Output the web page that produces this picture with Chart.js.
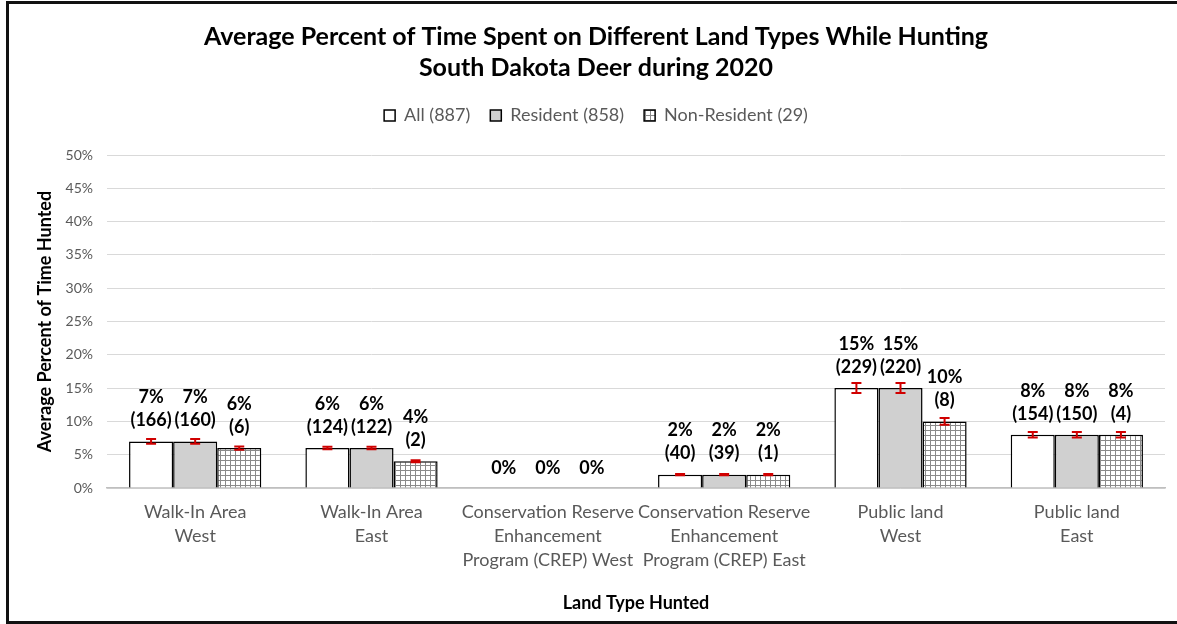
<!DOCTYPE html>
<html>
<head>
<meta charset="utf-8">
<script src="https://cdn.jsdelivr.net/npm/chart.js@4.4.1/dist/chart.umd.min.js"></script>
<style>
  html, body { margin: 0; padding: 0; background: #fff; overflow: hidden; }
  #wrap { position: relative; width: 1177px; height: 624px; }
  #frame { position: absolute; left: 6px; top: 1px; width: 1200px; height: 623px; box-sizing: border-box; border: 3px solid #111; pointer-events: none; }
</style>
</head>
<body>
<div id="wrap">
  <canvas id="chart" width="1177" height="624"></canvas>
  <div id="frame"></div>
</div>
<script>
// land types hunted (x categories)
const categories = [
    ['Walk-In Area', 'West'],
    ['Walk-In Area', 'East'],
    ['Conservation Reserve', 'Enhancement', 'Program (CREP) West'],
    ['Conservation Reserve', 'Enhancement', 'Program (CREP) East'],
    ['Public land', 'West'],
    ['Public land', 'East']
];
const seriesNames = ['All (887)', 'Resident (858)', 'Non-Resident (29)'];

// average percent of time hunted
const allPct = [7, 6, 0, 2, 15, 8];
const residentPct = [7, 6, 0, 2, 15, 8];
const nonResidentPct = [6, 4, 0, 2, 10, 8];

// number of hunters (shown under the percent)
const allCount = [166, 124, null, 40, 229, 154];
const residentCount = [160, 122, null, 39, 220, 150];
const nonResidentCount = [6, 2, null, 1, 8, 4];

// error bar half widths (percent points)
const allErr = [0.35, 0.2, 0, 0.1, 0.75, 0.4];
const residentErr = [0.35, 0.2, 0, 0.1, 0.75, 0.4];
const nonResidentErr = [0.25, 0.15, 0, 0.1, 0.5, 0.4];

const yMin = 0, yMax = 50, yStep = 5;

const FONT = 'Lato, "Open Sans", sans-serif';
Chart.defaults.font.family = FONT;

// grid hatch for the non-resident bars
const makeGrid = () => {
    const c = document.createElement('canvas');
    c.width = 5; c.height = 5;
    const g = c.getContext('2d');
    g.fillStyle = '#ffffff';
    g.fillRect(0, 0, 5, 5);
    g.fillStyle = '#8a8a8a';
    g.fillRect(0, 0, 5, 1);
    g.fillRect(0, 0, 1, 5);
    return g.createPattern(c, 'repeat');
};

const errorAndLabels = {
    id: 'errorAndLabels',
    afterDatasetsDraw(chart) {
        const ctx = chart.ctx;
        const y = chart.scales.y;
        ctx.save();
        chart.data.datasets.forEach((ds, i) => {
            const meta = chart.getDatasetMeta(i);
            meta.data.forEach((bar, j) => {
                const v = ds.data[j];
                const e = ds.errors[j];
                if (e) {
                    const t = y.getPixelForValue(v + e);
                    const b = y.getPixelForValue(v - e);
                    ctx.strokeStyle = '#d00000';
                    ctx.lineWidth = 2;
                    ctx.beginPath();
                    ctx.moveTo(bar.x, t); ctx.lineTo(bar.x, b);
                    ctx.moveTo(bar.x - 5, t); ctx.lineTo(bar.x + 5, t);
                    ctx.moveTo(bar.x - 5, b); ctx.lineTo(bar.x + 5, b);
                    ctx.stroke();
                }
                const base = y.getPixelForValue(v);
                ctx.fillStyle = '#000';
                ctx.font = 'bold 18px ' + FONT;
                ctx.textAlign = 'center';
                ctx.textBaseline = 'middle';
                const n = ds.counts[j];
                if (n != null) {
                    ctx.fillText('(' + n + ')', bar.x, base - 21);
                    ctx.fillText(v + '%', bar.x, base - 44);
                } else {
                    ctx.fillText(v + '%', bar.x, base - 20);
                }
            });
        });
        ctx.restore();
    }
};

const ctx = document.getElementById('chart').getContext('2d');

new Chart(ctx, {
    type: 'bar',
    data: {
        labels: categories,
        datasets: [
            {
                label: seriesNames[0],
                data: allPct,
                counts: allCount,
                errors: allErr,
                backgroundColor: '#ffffff',
                borderColor: '#000000',
                borderWidth: 1.5
            },
            {
                label: seriesNames[1],
                data: residentPct,
                counts: residentCount,
                errors: residentErr,
                backgroundColor: '#d0d0d0',
                borderColor: '#000000',
                borderWidth: 1.5
            },
            {
                label: seriesNames[2],
                data: nonResidentPct,
                counts: nonResidentCount,
                errors: nonResidentErr,
                backgroundColor: makeGrid(),
                borderColor: '#000000',
                borderWidth: 1.5
            }
        ]
    },
    options: {
        responsive: false,
        animation: false,
        devicePixelRatio: 1,
        layout: { padding: { left: 27, right: 12, top: 0, bottom: 0 } },
        datasets: {
            bar: { categoryPercentage: 0.75, barPercentage: 1.0 }
        },
        plugins: {
            tooltip: { enabled: false },
            title: {
                display: true,
                text: ['Average Percent of Time Spent on Different Land Types While Hunting', 'South Dakota Deer during 2020'],
                color: '#000',
                font: { size: 25, weight: 'bold', lineHeight: 1.24 },
                padding: { top: 21, bottom: 3.5 }
            },
            // empty spacer between the legend and the plot
            subtitle: {
                display: true,
                text: '',
                weight: 500,
                font: { size: 10, lineHeight: 1.2 },
                padding: { top: 0, bottom: 8.5 }
            },
            legend: {
                display: true,
                labels: {
                    color: '#595959',
                    font: { size: 18 },
                    boxWidth: 11,
                    boxHeight: 11,
                    padding: 20
                }
            }
        },
        scales: {
            x: {
                grid: { display: false, drawTicks: false },
                border: { display: true, color: '#bfbfbf', width: 1.5 },
                ticks: {
                    color: '#595959',
                    font: { size: 18, lineHeight: 1.333 },
                    padding: 12,
                    maxRotation: 0,
                    autoSkip: false
                },
                title: {
                    display: true,
                    text: 'Land Type Hunted',
                    color: '#000',
                    font: { size: 18, weight: 'bold' },
                    padding: { top: 0, bottom: 10.5 }
                },
                afterFit: (s) => { s.height = 136; }
            },
            y: {
                min: yMin,
                max: yMax,
                grid: { color: '#d9d9d9', drawTicks: false },
                border: { display: false },
                ticks: {
                    stepSize: yStep,
                    color: '#595959',
                    font: { size: 14 },
                    padding: 14,
                    callback: (v) => v + '%'
                },
                title: {
                    display: true,
                    text: 'Average Percent of Time Hunted',
                    color: '#000',
                    font: { size: 18, weight: 'bold' },
                    padding: { top: 7.2, bottom: 0 }
                },
                afterFit: (s) => { s.width = 80; }
            }
        }
    },
    plugins: [errorAndLabels]
});
</script>
</body>
</html>
